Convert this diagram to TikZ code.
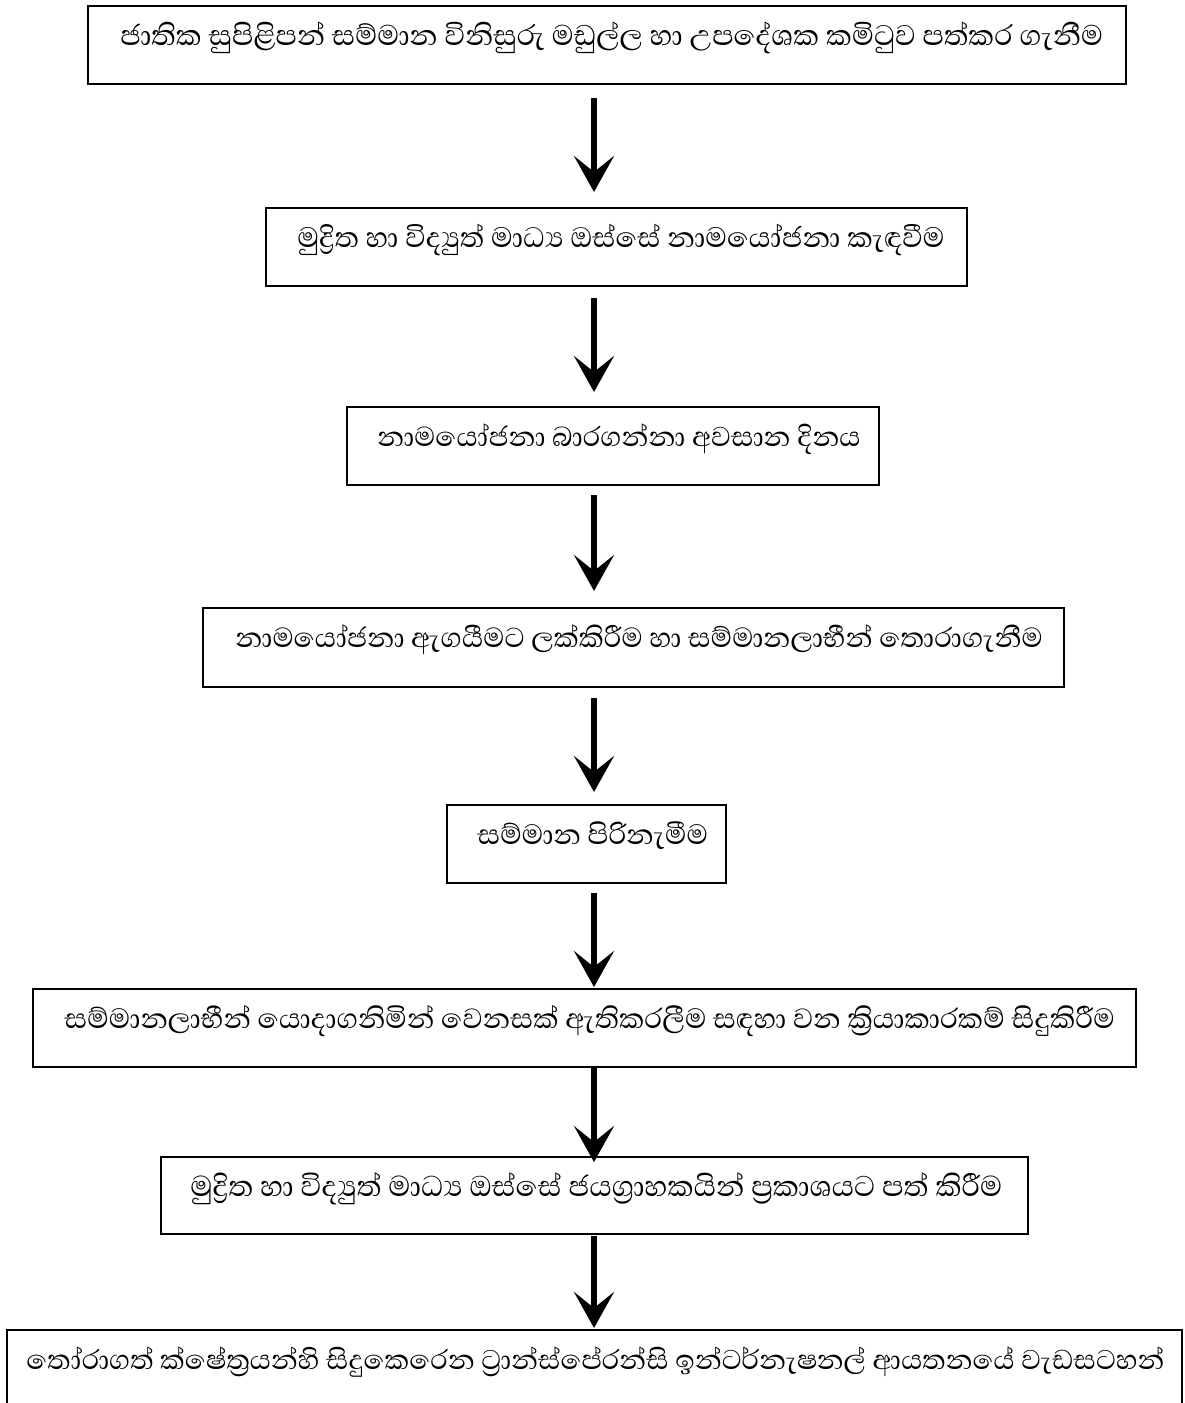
\documentclass[tikz,border=0pt]{standalone}
\usepackage{fontspec}
\newfontfamily\sinhfont[Script=Sinhala]{Abhaya Libre}
\usetikzlibrary{arrows.meta,calc,fit}
\begin{document}
\begin{tikzpicture}[x=0.5pt,y=-0.5pt,
  box/.style={draw, line width=1pt, inner sep=0pt},
  lbl/.style={font=\sinhfont\fontsize{#1}{24pt}\selectfont, anchor=base west, inner sep=0pt},
  lbl/.default=17.8pt,
  arr/.style={line width=3.2pt, -{Stealth[length=18pt,width=20pt,inset=8pt]}}]
\useasboundingbox (0,0) rectangle (1184,1403);
\clip (0,0) rectangle (1184,1403);
\coordinate (ax) at (594,0);
\node[box, fit={(88,6) (1126,84)}] (b1) {};
\node[box, fit={(266,208) (967,286)}] (b2) {};
\node[box, fit={(347,407) (879,485)}] (b3) {};
\node[box, fit={(203,608) (1064,687)}] (b4) {};
\node[box, fit={(447,805) (726,883)}] (b5) {};
\node[box, fit={(33,989) (1136,1067)}] (b6) {};
\node[box, fit={(161,1157) (1028,1234)}] (b7) {};
\node[box, fit={(7,1330) (1182,1420)}] (b8) {};
\node[lbl=18.2pt] (t1) at ($(b1.north west)+(33,40)$) {ජාතික සුපිළිපන් සම්මාන විනිසුරු මඩුල්ල හා උපදේශක කමිටුව පත්කර ගැනීම};
\node[lbl=18pt] (t2) at ($(b2.north west)+(32,40)$) {මුද්^^^^200dරිත හා විද්^^^^200dයුත් මාධ්^^^^200dය ඔස්සේ නාමයෝජනා කැඳවීම};
\node[lbl=17.5pt] (t3) at ($(b3.north west)+(31,40)$) {නාමයෝජනා බාරගන්නා අවසාන දිනය};
\node[lbl=17.6pt] (t4) at ($(b4.north west)+(33,40)$) {නාමයෝජනා ඇගයීමට ලක්කිරීම හා සම්මානලාභීන් තොරාගැනීම};
\node[lbl] (t5) at ($(b5.north west)+(31,40)$) {සම්මාන පිරිනැමීම};
\node[lbl] (t6) at ($(b6.north west)+(32,40)$) {සම්මානලාභීන් යොදාගනිමින් වෙනසක් ඇතිකරලීම සඳහා වන ක්^^^^200dරියාකාරකම් සිදුකිරීම};
\node[lbl=18.4pt] (t7) at ($(b7.north west)+(30,40)$) {මුද්^^^^200dරිත හා විද්^^^^200dයුත් මාධ්^^^^200dය ඔස්සේ ජයග්^^^^200dරාහකයින් ප්^^^^200dරකාශයට පත් කිරීම};
\node[lbl=17.4pt] (t8) at ($(b8.north west)+(20,40)$) {තෝරාගත් ක්ෂේත්^^^^200dරයන්හි සිදුකෙරෙන ට්^^^^200dරාන්ස්පේරන්සි ඉන්ටර්නැෂනල් ආයතනයේ වැඩසටහන්};
\draw[arr, shorten <=6.5pt, shorten >=7.5pt] (b1.south -| ax) -- (b2.north -| ax);
\draw[arr, shorten <=5.5pt, shorten >=7pt] (b2.south -| ax) -- (b3.north -| ax);
\draw[arr, shorten <=4.5pt, shorten >=8pt] (b3.south -| ax) -- (b4.north -| ax);
\draw[arr, shorten <=5pt, shorten >=6pt] (b4.south -| ax) -- (b5.north -| ax);
\draw[arr, shorten <=4.5pt, shorten >=0.5pt] (b5.south -| ax) -- (b6.north -| ax);
\draw[arr, shorten <=0pt, shorten >=-3pt] (b6.south -| ax) -- (b7.north -| ax);
\draw[arr, shorten <=0.5pt, shorten >=0.5pt] (b7.south -| ax) -- (b8.north -| ax);
\end{tikzpicture}
\end{document}
